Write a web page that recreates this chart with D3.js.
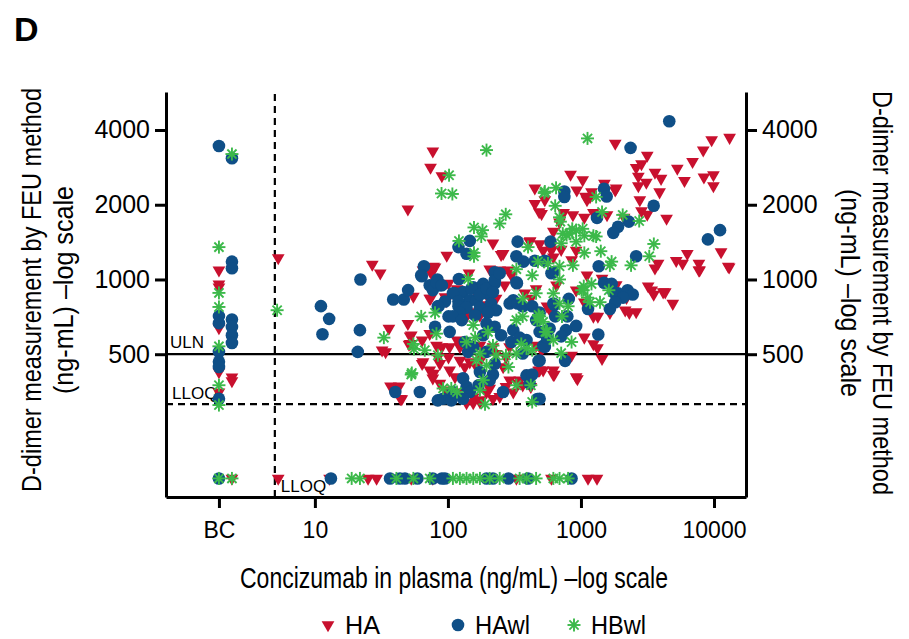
<!DOCTYPE html>
<html>
<head>
<meta charset="utf-8">
<script src="https://cdn.jsdelivr.net/npm/d3@7"></script>
<style>
  body { margin: 0; background: #fff; }
  text { font-family: "Liberation Sans", Arial, sans-serif; }
</style>
</head>
<body>
<div id="chart"></div>
<script>
// D-dimer (ng/mL) vs concizumab in plasma (ng/mL), both log scale
var seriesNames = ["HA", "HAwl", "HBwl"];
var yTicks = [500, 1000, 2000, 4000];
var xTicks = [10, 100, 1000, 10000];
var ULN = 500, LLOQ_Y = 315, LLOQ_X = 5, BLQ_Y = 158, BC_X = 1.9;

// [concizumab, d-dimer]
var haPts = [[77,3290],[74,2830],[90,2610],[50,1920],[27,1150],[31,1060],[55,854],[36,635],[50,664],[52,591],[51,548],[34,511],[37,372],[43,372],[45,330],
  [218,1400],[98,1250],[80,1120],[75,1060],[74,838],[97,820],[260,1270],[285,1090],[245,1090],[411,1420],[489,1390],[590,1350],
  [450,2330],[450,2020],[506,1840],[535,2090],[835,2650],[1030,2520],[930,2290],[870,1820],[1060,1780],[1080,2160],[1170,2150],[1240,1860],
  [1810,3530],[3150,3160],[9600,3650],[13100,3730],[8300,3320],[8400,2580],[9900,2640],[9900,2380],[7800,1090],[11300,1290],[13000,1120],
  [6900,2980],[5300,2800],[6000,2500],[2600,2820],[2850,2920],[2700,2600],[3100,2460],[2700,2380],[3600,2700],[4000,2550],[3900,2250],
  [1500,2440],[1810,2290],[1120,2140],[1200,2250],[2770,2090],[2850,1890],[3150,1830],[4400,1760],[2110,1780],
  [6300,1270],[5200,1190],[5800,1160],[7700,1160],[3800,1160],[12800,1130],[7700,1090],[3600,1110],[3400,905],[4150,890],[4900,800],[3200,940],
  [1840,950],[2200,845],[2600,740],[1110,1040],[920,905],[1060,810],[3520,870],[4300,890],[2150,752],[2310,735],[1340,710],[1240,710],[1650,735],
  [1060,585],[1240,550],[1330,530],[1440,480],[940,398],[630,415],[480,430],[850,495],
  [73,1090],[101,965],[117,917],[164,880],[195,870],[73,838],[95,850],[138,710],[146,740],[174,717],[190,790],[230,838],[300,1040],[267,948],
  [378,880],[460,917],[420,838],[655,948],[555,780],[600,735],[53,596],[64,570],[73,605],[82,542],[90,535],[103,535],[123,535],[117,570],
  [101,487],[87,458],[64,458],[73,431],[77,400],[84,487],[123,472],[134,444],[146,465],[164,444],[174,542],[218,535],[230,503],[273,487],
  [178,480],[260,444],[291,393],[334,381],[365,375],[420,370],[520,431],[620,414],[506,519],[44,331],[103,431],[113,405],[155,336],[174,321],
  [218,331],[206,364],[32,519],[291,535],[460,542],[251,1260],[415,1430],[520,1310],[620,1560],[620,1230],[78,1130],[65,1090],[144,1060],[206,1100],
  [485,1870],[690,1700],[600,1310],[710,1320],[920,1310],[850,1200],[1440,1010],[1840,2330],[1570,1820],[740,1860],[1110,2090],[5.3,1220],
  [52,551],[65,466],[78,418],[87,381],[98,358],[107,339],[117,352],[138,318],[155,318],[174,327],[195,352],[245,337],[273,370],[310,352],
  [346,393],[411,418],[489,431],[620,431],[920,405]];
var haBC = [[0,1090],[0,957],[0,931],[0,638],[0,424],[0,352],[1,404],[1,390]];
var haBLQ = [5.3, 12.9, 25.1, 29.1, 53, 77, 327, 600, 1130, 1320];
var haBCBLQ = [1];

var hawlPts = [[22,1000],[11.1,781],[12.8,694],[11.4,602],[21.8,625],[21,511],[38.8,830],[46.6,830],[50.2,906],[40.2,352],[61.5,352],
  [146,1430],[120,1350],[138,1270],[66,1130],[63.6,1030],[73,948],[83.4,1000],[86.8,948],[77,906],[85,781],[113,880],[130,890],[155,930],
  [184,960],[225,1070],[225,965],[195,880],[146,825],[164,825],[334,1420],[327,1240],[370,1180],[450,1190],[330,965],[590,1420],[620,1070],
  [750,2260],[750,2150],[1320,1770],[4610,4340],[2360,3390],[1490,2320],[1560,2160],[3520,1980],[2290,1710],[1900,1630],[1750,1540],
  [9000,1450],[11100,1580],[2600,1240],[1360,1130],[1490,970],[1700,960],[1750,890],[1900,880],[2240,905],[2450,870],[2070,845],
  [1810,810],[1650,760],[1130,760],[920,650],[1350,600],[810,835],[790,710],[630,790],[770,625],[710,590],[520,540],[480,470],[470,330],[760,470],
  [63,1040],[82,975],[90,948],[121,1005],[150,917],[174,870],[195,917],[218,890],[225,993],[245,1060],[327,975],[109,880],[120,815],[95,815],
  [84,780],[120,780],[138,770],[174,770],[211,800],[230,752],[200,735],[123,735],[101,710],[109,710],[127,686],[160,717],[80,645],[103,615],
  [195,664],[225,645],[291,800],[310,825],[334,800],[365,780],[430,780],[489,735],[620,800],[640,710],[460,686],[489,615],[581,635],[535,535],
  [555,583],[251,596],[310,625],[300,560],[346,583],[390,570],[184,596],[134,560],[142,511],[155,535],[195,511],[365,503],[489,472],[174,424],
  [225,458],[218,414],[206,393],[130,400],[138,370],[146,352],[170,375],[260,352],[390,411],[430,414],[411,381],[489,331],[92,331],[84,326],
  [106,326],[109,352],[130,331],[600,1060],[535,1190]];
var hawlBC = [[0,3450],[0,712],[0,667],[0,511],[0,466],[0,444],[0,331],[1,3080],[1,1180],[1,1110],[1,690],[1,644],[1,596],[1,555]];
var hawlBLQ = [13.2, 36.7, 43.6, 47.5, 59, 77, 90, 95, 195, 218, 285, 400, 850];
var hawlBCBLQ = [0];

var hbwlPts = [[5.2,752],[102,2630],[89.5,2220],[108,2210],[195,3320],[1120,3700],[272,1830],[245,1680],[157,1620],[182,1580],[178,1490],
  [121,1430],[157,1280],[157,1240],[327,1100],[400,1350],[475,1180],[565,1160],[690,1130],[535,2260],[650,2340],[640,1980],[690,1780],
  [730,1530],[710,1400],[820,1530],[920,1580],[1060,1500],[1240,1500],[1060,1280],[1200,960],[1040,905],[1170,810],
  [1300,2150],[1440,1870],[2060,1820],[2740,1720],[3530,1390],[3260,1240],[2380,1140],[1700,1180],[1410,1300],[1300,1490],[920,1420],
  [1010,905],[1620,905],[1390,810],[1120,845],[1650,1140],[530,2230],[690,1000],[1050,940],[690,800],[800,780],[480,720],[540,615],[850,560],
  [720,710],[710,505],[470,685],[142,1005],[430,1040],[460,880],[365,838],[489,710],[620,880],[63,710],[80,735],[33,583],[55,550],[67,519],
  [84,495],[82,605],[155,655],[160,583],[200,615],[138,560],[218,542],[230,495],[174,503],[164,472],[195,451],[273,495],[285,444],[327,503],
  [356,550],[390,527],[430,519],[520,675],[555,615],[620,570],[53,414],[92,364],[106,364],[117,352],[184,393],[174,358],[327,375],[420,375],
  [430,321],[190,314],[365,710],[327,686],[55.5,525],[53.5,420],[700,1710],[780,1510],[860,1600],[1030,1600],[870,1140]];
var hbwlBC = [[0,1350],[0,883],[0,775],[0,538],[0,375],[0,312],[1,3200]];
var hbwlBLQ = [18.9, 21.8, 41, 55, 73, 109, 123, 138, 155, 174, 206, 245, 346, 390, 460, 620, 690, 800];
var hbwlBCBLQ = [0, 1];

var colors = {HA: "#c8102e", HAwl: "#0f4f87", HBwl: "#3cb94a"};

var W = 909, H = 639;
var margin = {top: 92, right: 163, bottom: 142, left: 166};

var svg = d3.select("#chart").append("svg")
    .attr("width", W)
    .attr("height", H);

var x = d3.scaleLog().domain([0.76, 17400]).range([margin.left, W - margin.right]);
var y = d3.scaleLog().domain([133, 5690]).range([H - margin.bottom, margin.top]);
var bcOffset = d3.scaleLinear().domain([0, 1]).range([0, 13]);

// reference lines
svg.append("line")
    .attr("x1", x.range()[0]).attr("x2", x.range()[1])
    .attr("y1", y(ULN)).attr("y2", y(ULN))
    .attr("stroke", "#000").attr("stroke-width", 2.2);
svg.append("line")
    .attr("x1", x.range()[0]).attr("x2", x.range()[1])
    .attr("y1", y(LLOQ_Y)).attr("y2", y(LLOQ_Y))
    .attr("stroke", "#000").attr("stroke-width", 2.2)
    .attr("stroke-dasharray", "7,5");
svg.append("line")
    .attr("x1", x(LLOQ_X)).attr("x2", x(LLOQ_X))
    .attr("y1", y.range()[0]).attr("y2", y.range()[1])
    .attr("stroke", "#000").attr("stroke-width", 2.2)
    .attr("stroke-dasharray", "7,5");

svg.append("text").attr("x", x.range()[0] + 4).attr("y", y(ULN) - 6)
    .style("font-size", "17px").text("ULN");
svg.append("text").attr("x", x.range()[0] + 6).attr("y", y(LLOQ_Y) - 5)
    .style("font-size", "17px").text("LLOQ");
svg.append("text").attr("x", x(LLOQ_X) + 6).attr("y", y.range()[0] - 5)
    .style("font-size", "17px").text("LLOQ");

// markers
function drawMark(g, name, px, py) {
    if (name == "HA") {
        g.append("path")
            .attr("d", d3.symbol().type(d3.symbolTriangle).size(70)())
            .attr("transform", "translate(" + px + "," + py + ") rotate(180)")
            .attr("fill", colors.HA);
    } else if (name == "HAwl") {
        g.append("circle").attr("cx", px).attr("cy", py).attr("r", 6.3)
            .attr("fill", colors.HAwl);
    } else {
        var r = 6.5, gg = g.append("g")
            .attr("transform", "translate(" + px + "," + py + ")")
            .attr("stroke", colors.HBwl).attr("stroke-width", 1.9);
        [0, 45, 90, 135].forEach(function(a) {
            var rad = a * Math.PI / 180;
            gg.append("line")
                .attr("x1", -r * Math.cos(rad)).attr("y1", -r * Math.sin(rad))
                .attr("x2", r * Math.cos(rad)).attr("y2", r * Math.sin(rad));
        });
    }
}

var sets = [
    ["HA", haPts, haBC, haBLQ, haBCBLQ],
    ["HAwl", hawlPts, hawlBC, hawlBLQ, hawlBCBLQ],
    ["HBwl", hbwlPts, hbwlBC, hbwlBLQ, hbwlBCBLQ]
];
var marks = svg.append("g");
sets.forEach(function(s) {
    var name = s[0];
    s[1].forEach(function(d) { drawMark(marks, name, x(d[0]), y(d[1])); });
    s[2].forEach(function(d) { drawMark(marks, name, x(BC_X) + bcOffset(d[0]), y(d[1])); });
    s[3].forEach(function(d) { drawMark(marks, name, x(d), y(BLQ_Y)); });
    s[4].forEach(function(d) { drawMark(marks, name, x(BC_X) + bcOffset(d), y(BLQ_Y)); });
});

// axes
var xAxis = svg.append("g")
    .attr("transform", "translate(0," + y.range()[0] + ")")
    .call(d3.axisBottom(x)
        .tickValues([BC_X].concat(xTicks))
        .tickFormat(function(d) { return d == BC_X ? "BC" : d; })
        .tickSize(11).tickSizeOuter(0).tickPadding(14));
var yAxisL = svg.append("g")
    .attr("transform", "translate(" + x.range()[0] + ",0)")
    .call(d3.axisLeft(y).tickValues(yTicks).tickFormat(d3.format("d"))
        .tickSize(11).tickSizeOuter(0).tickPadding(5));
var yAxisR = svg.append("g")
    .attr("transform", "translate(" + x.range()[1] + ",0)")
    .call(d3.axisRight(y).tickValues(yTicks).tickFormat(d3.format("d"))
        .tickSize(11).tickSizeOuter(0).tickPadding(5));

svg.selectAll(".domain").attr("stroke-width", 3);
svg.selectAll(".tick line").attr("stroke-width", 3);
svg.selectAll(".tick text")
    .style("font-family", "'Liberation Sans', Arial, sans-serif")
    .style("font-size", "25px").attr("fill", "#000");
xAxis.selectAll(".tick text").style("font-size", "23px");

// axis titles (condensed look via textLength)
svg.append("text")
    .attr("x", 240).attr("y", 588)
    .attr("textLength", 428).attr("lengthAdjust", "spacingAndGlyphs")
    .style("font-size", "29px")
    .text("Concizumab in plasma (ng/mL) \u2013log scale");

function vTitle(cx, cy, rot, dy) {
    var t = svg.append("g").attr("transform", "translate(" + cx + "," + cy + ") rotate(" + rot + ")");
    t.append("text").attr("x", -202).attr("y", 0)
        .attr("textLength", 404).attr("lengthAdjust", "spacingAndGlyphs")
        .style("font-size", "28px").text("D-dimer measurement by FEU method");
    t.append("text").attr("x", -104).attr("y", dy)
        .attr("textLength", 208).attr("lengthAdjust", "spacingAndGlyphs")
        .style("font-size", "28px").text("(ng-mL) \u2013log scale");
}
vTitle(41, 290, -90, 32);
vTitle(873, 293, 90, 32);

// panel letter
svg.append("text").attr("x", 14).attr("y", 41)
    .style("font-size", "34px").style("font-weight", "bold").text("D");

// legend
var legX = [328, 458, 574];
var legW = [35, 55, 55];
var leg = svg.append("g");
seriesNames.forEach(function(n, i) {
    drawMark(leg, n, legX[i], 625);
    leg.append("text")
        .attr("x", legX[i] + 17).attr("y", 634)
        .attr("textLength", legW[i]).attr("lengthAdjust", "spacingAndGlyphs")
        .style("font-size", "26px").text(n);
});
</script>
</body>
</html>
